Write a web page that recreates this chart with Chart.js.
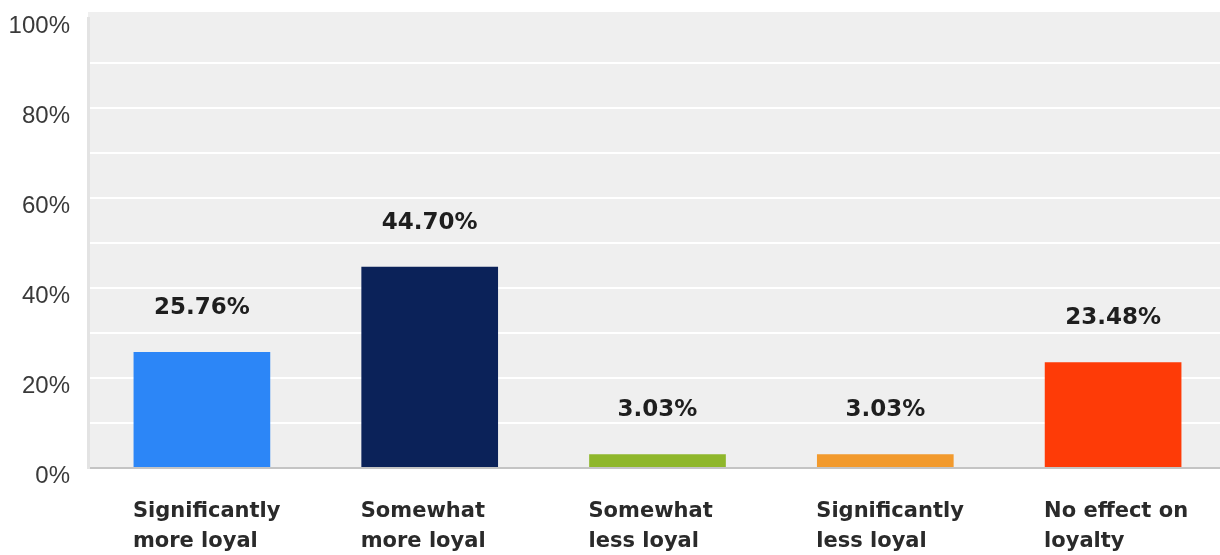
<!DOCTYPE html>
<html>
<head>
<meta charset="utf-8">
<script src="https://cdn.jsdelivr.net/npm/chart.js@4/dist/chart.umd.min.js"></script>
<style>
  html, body { margin: 0; padding: 0; background: #fff; overflow: hidden; }
  #wrap { width: 1227px; height: 555px; }
</style>
</head>
<body>
<div id="wrap"><canvas id="myChart" width="1227" height="555"></canvas></div>
<script>
// data
const categorias = [
  ["Significantly", "more loyal"],
  ["Somewhat", "more loyal"],
  ["Somewhat", "less loyal"],
  ["Significantly", "less loyal"],
  ["No effect on", "loyalty"]
];
const porcentajes = [25.76, 44.70, 3.03, 3.03, 23.48];
const colores = ["#2c86f7", "#0b2259", "#8fb72b", "#f29a2d", "#fe3b07"];
const ticksY = [0, 20, 40, 60, 80, 100];

// grey plot background
const fondo = {
  id: "fondo",
  beforeDraw(chart) {
    const { ctx, chartArea: a } = chart;
    ctx.save();
    ctx.fillStyle = "#efefef";
    ctx.fillRect(a.left, a.top - 6, a.right - a.left, a.bottom - a.top + 6);
    ctx.restore();
  }
};

// value labels above bars
const etiquetas = {
  id: "etiquetas",
  afterDatasetsDraw(chart) {
    const ctx = chart.ctx;
    const meta = chart.getDatasetMeta(0);
    ctx.save();
    ctx.font = "bold 23px 'DejaVu Sans'";
    ctx.fillStyle = "#1e1e1e";
    ctx.textAlign = "center";
    ctx.textBaseline = "middle";
    meta.data.forEach((bar, i) => {
      ctx.fillText(porcentajes[i].toFixed(2) + "%", bar.x, bar.y - 44);
    });
    ctx.restore();
  }
};

const ctx = document.getElementById("myChart");

new Chart(ctx, {
  type: "bar",
  data: {
    labels: categorias,
    datasets: [
      {
        data: porcentajes,
        backgroundColor: colores,
        borderWidth: 0,
        categoryPercentage: 1,
        barPercentage: 0.6
      }
    ]
  },
  options: {
    responsive: false,
    animation: false,
    layout: { padding: { top: 18, left: 0, right: 0, bottom: 0 } },
    plugins: {
      legend: { display: false },
      tooltip: { enabled: false }
    },
    scales: {
      x: {
        grid: { display: false, drawTicks: false },
        border: { display: true, color: "#c4c4c4", width: 2 },
        ticks: {
          align: "start",
          labelOffset: -69,
          padding: 29,
          maxRotation: 0,
          autoSkip: false,
          color: "#2a2a2a",
          font: { family: "'DejaVu Sans'", size: 21, weight: "bold", lineHeight: 1.4 }
        },
        afterFit(s) {
          s.paddingLeft = 0;
          s.paddingRight = 0;
          s.height = 87;
        }
      },
      y: {
        min: 0,
        max: 100,
        grid: {
          drawTicks: false,
          lineWidth: 2,
          color: (c) => (c.tick.value > 0 && c.tick.value < 100 ? "#ffffff" : "rgba(0,0,0,0)")
        },
        border: { display: true, color: "#e3e3e3", width: 3 },
        ticks: {
          stepSize: 10,
          padding: 18,
          labelOffset: 8,
          color: "#3a3a3a",
          font: { family: "'Liberation Sans'", size: 24 },
          callback: (v) => (ticksY.includes(v) ? v + "%" : "")
        },
        afterFit(s) {
          s.width = 88;
          s.paddingTop = 0;
          s.paddingBottom = 0;
        }
      }
    }
  },
  plugins: [fondo, etiquetas]
});
</script>
</body>
</html>
